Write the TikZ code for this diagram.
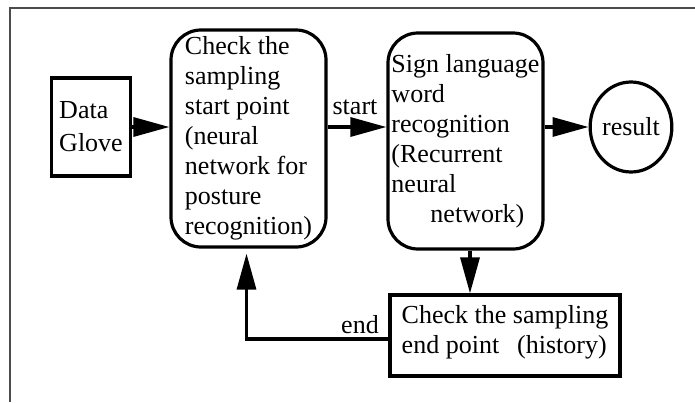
\documentclass[tikz,border=0pt]{standalone}
\usepackage{fontspec}
\setmainfont{Liberation Serif}
\usetikzlibrary{arrows.meta,shapes.geometric}
\begin{document}
\begin{tikzpicture}[x=1pt,y=-1pt,
  txt/.style={font=\fontsize{26}{30}\selectfont},
  rbox/.style={draw, line width=3.2pt, rounded corners=30pt, minimum width=155pt, align=left, inner sep=2pt, txt},
  sbox/.style={draw, line width=3.2pt, align=left, inner sep=2pt, txt},
  arr/.style={line width=3.2pt, -{Triangle[length=36pt,width=19pt]}},
  lbl/.style={txt, inner sep=0pt}]
\useasboundingbox (0,0) rectangle (695,402);
\draw[line width=1.5pt, black!70] (10,402) -- (10,8) -- (695,8);
\node[sbox, minimum width=79pt, minimum height=98pt] (glove) at (91,127) {Data\\[3pt]Glove};
\node[rbox, minimum height=217pt] (check) at (248.5,138.5) {Check the\\sampling\\start point\\(neural\\network for\\posture\\recognition)};
\node[rbox, minimum height=216pt] (word) at (465.5,141) {Sign language\\word\\recognition\\(Recurrent\\neural\\\hspace*{39pt}network)};
\node[ellipse, draw, line width=3.2pt, minimum width=74pt, minimum height=90pt, inner sep=0pt, txt] (result) at (631,127) {result};
\node[sbox, align=left, minimum width=230pt, minimum height=81pt, text depth=12pt] (endbox) at (505,335.5) {Check the sampling\\end point\hspace{18pt}(history)};
\node[lbl] (start) at (355,107) {start};
\node[lbl] (endlbl) at (360,325) {end};
\draw[arr] (glove.east) -- (glove.east -| check.west);
\draw[arr] (glove.east -| check.east) -- (glove.east -| word.west);
\draw[arr] (glove.east -| word.east) -- (result.west);
\draw[arr] ([xshift=4.5pt]word.south) -- ([xshift=4.5pt]word.south |- endbox.north);
\draw[arr, shorten >=5pt] ([yshift=-3.5pt]endbox.west) -| ([xshift=-2pt]check.south);
\end{tikzpicture}
\end{document}
